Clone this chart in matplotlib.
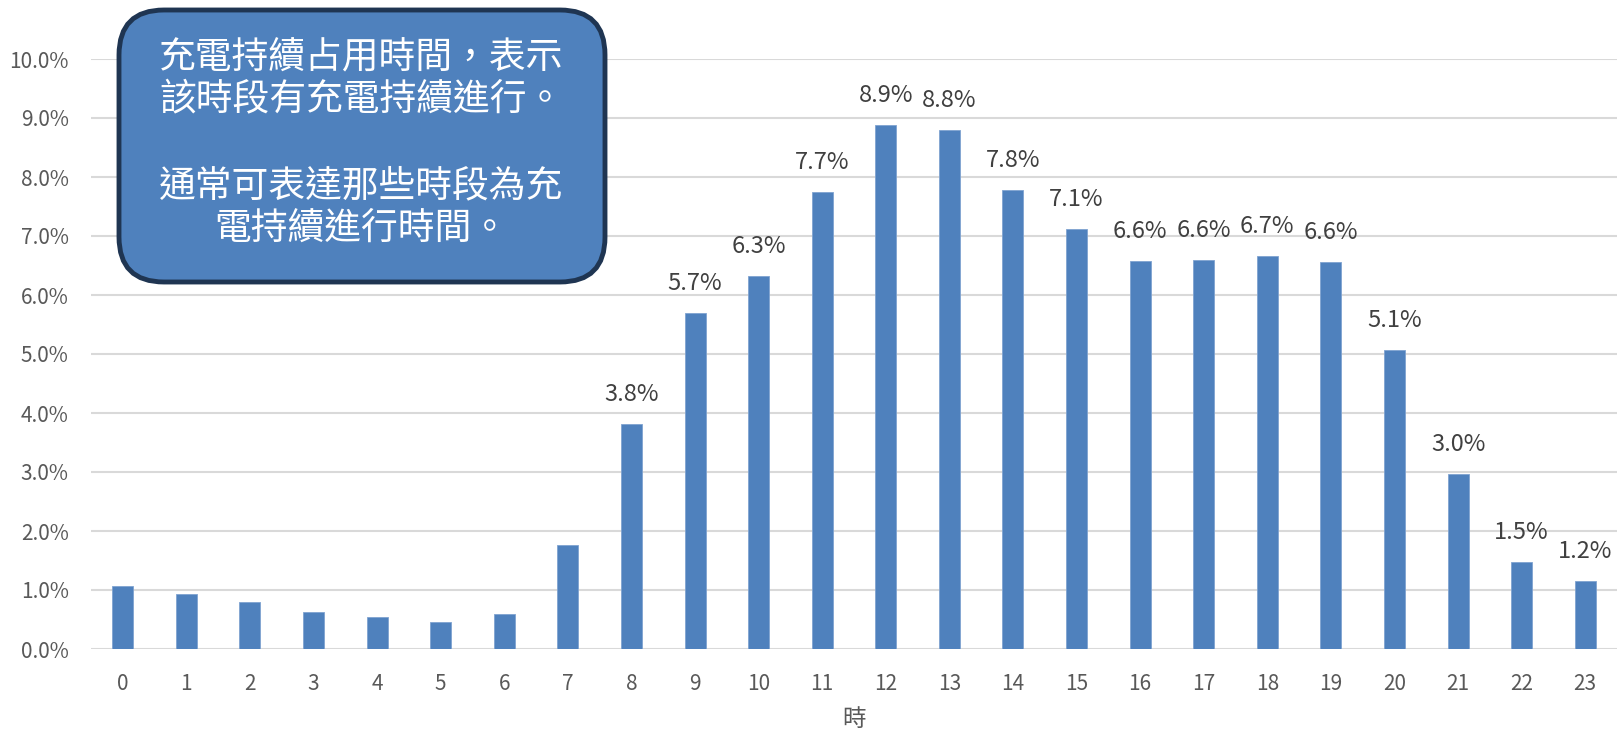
import matplotlib
matplotlib.use("Agg")
import matplotlib.pyplot as plt
from matplotlib.patches import FancyBboxPatch
from matplotlib.ticker import FuncFormatter

plt.rcParams['font.family'] = ['Noto Sans CJK TC', 'DejaVu Sans']

hours = list(range(24))
share = [1.07, 0.93, 0.80, 0.63, 0.55, 0.45, 0.59, 1.77, 3.82, 5.70, 6.32, 7.74,
         8.88, 8.79, 7.78, 7.12, 6.57, 6.59, 6.66, 6.56, 5.07, 2.96, 1.47, 1.16]
labelled_from = 8
xlabel = "時"
note_lines = ["充電持續占用時間，表示", "該時段有充電持續進行。", "",
              "通常可表達那些時段為充", "電持續進行時間。"]

W, H = 1617, 731
fig = plt.figure(figsize=(W / 100, H / 100), dpi=100)
ax = fig.add_axes([91 / W, (H - 649) / H, (1617 - 91) / W, (649 - 59) / H])

blue = "#4F81BD"
ax.bar(hours, share, width=0.33, color=blue, edgecolor="#7FA3D1", linewidth=0.6, zorder=3)
ax.set_xlim(-0.5, 23.5)
ax.set_ylim(0, 10)
ax.set_yticks([i for i in range(11)])
ax.yaxis.set_major_formatter(FuncFormatter(lambda v, p: f"{v:.1f}%"))
ax.set_xticks(hours)
ax.set_xticklabels([str(h) for h in hours])
ax.grid(axis='y', color="#D9D9D9", linewidth=1.5, zorder=0)
ax.set_axisbelow(True)
for s in ax.spines.values():
    s.set_visible(False)
ax.tick_params(axis='both', length=0, colors="#595959", labelsize=15)
ax.tick_params(axis='x', pad=17)
ax.tick_params(axis='y', pad=16)
ax.set_xlabel(xlabel, fontsize=17, color="#595959", labelpad=10)

for h, v in zip(hours, share):
    if h >= labelled_from:
        ax.annotate(f"{v:.1f}%", (h, v), xytext=(0, 13), textcoords="offset points",
                    ha="center", va="bottom", fontsize=17, color="#404040")

# note box
box = FancyBboxPatch((1.19, 7.31 - 2.82), 6.05 - 1.19, 2.82 - 0.10,
                     boxstyle="round,pad=0,rounding_size=0.45",
                     transform=fig.dpi_scale_trans, facecolor=blue,
                     edgecolor="#1F3552", linewidth=3.5, zorder=10)
fig.add_artist(box)
ys = [57.7, 100.3, None, 185.6, 228.5]
for line, y in zip(note_lines, ys):
    if y is None:
        continue
    fig.text(361 / W, 1 - y / H, line, ha="center", va="center", fontsize=26.5,
             color="white", zorder=11)

fig.savefig("out.png", dpi=100)
